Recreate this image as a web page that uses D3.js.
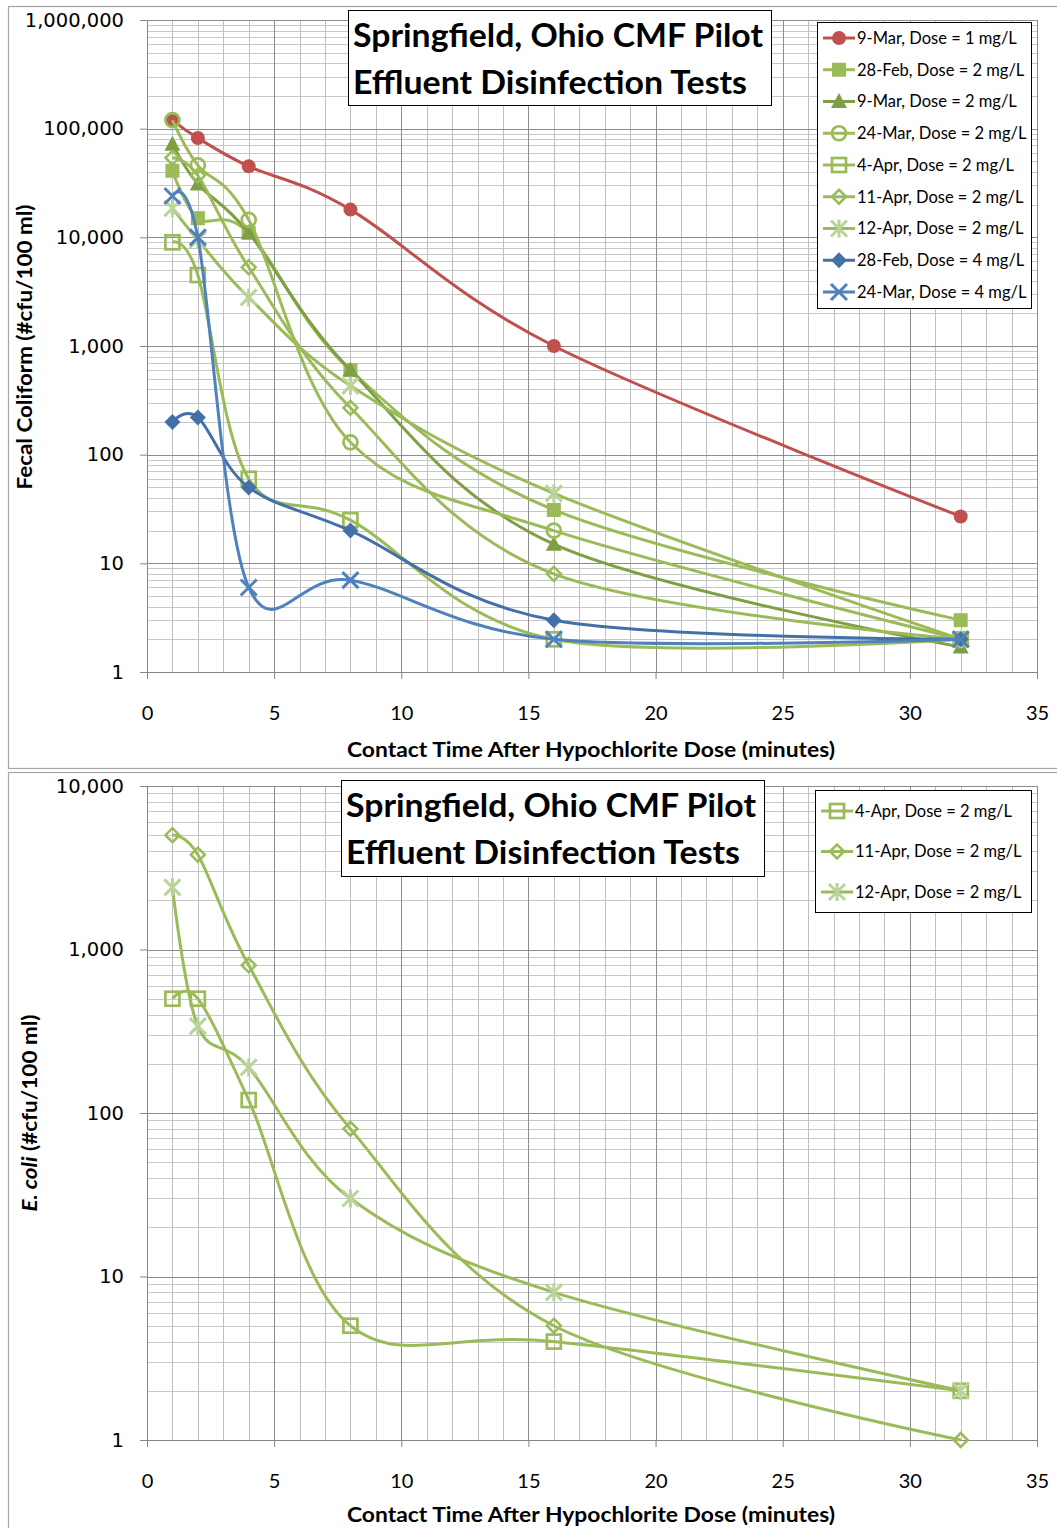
<!DOCTYPE html>
<html>
<head>
<meta charset="utf-8">
<script src="https://cdn.jsdelivr.net/npm/d3@7"></script>
<style>
  body { margin: 0; background: #fff; }
  svg { display: block; }
</style>
</head>
<body>
<div id="chart"></div>
<script>
// contact times (minutes)
var times = [1, 2, 4, 8, 16, 32];

// Fecal coliform, #cfu/100 ml
var fc_9Mar_1 = [120000, 82000, 45000, 18000, 1000, 27];
var fc_28Feb_2 = [41000, 15000, 11000, 600, 31, 3];
var fc_9Mar_2 = [72000, 31000, 11000, 600, 15, 1.7];
var fc_24Mar_2 = [120000, 46000, 14500, 130, 20, 2];
var fc_4Apr_2 = [9000, 4500, 60, 25, 2, 2];
var fc_11Apr_2 = [54000, 37000, 5300, 270, 8, 2];
var fc_12Apr_2 = [18500, 9500, 2800, 430, 44, 2];
var fc_28Feb_4 = [200, 220, 50, 20, 3, 2];
var fc_24Mar_4 = [24000, 10000, 6, 7, 2, 2];

// E. coli, #cfu/100 ml
var ec_4Apr_2 = [500, 500, 120, 5, 4, 2];
var ec_11Apr_2 = [5000, 3800, 800, 80, 5, 1];
var ec_12Apr_2 = [2400, 340, 190, 30, 8, 2];

var fcTicks = [1, 10, 100, 1000, 10000, 100000, 1000000];
var ecTicks = [1, 10, 100, 1000, 10000];
var xTicks = [0, 5, 10, 15, 20, 25, 30, 35];

var red = "#C0504D", green = "#9BBB59", dkgreen = "#7F9F45",
    ltgreen = "#B9D39A", blue = "#4470A8", blue2 = "#4F81BD";

var topSeries = [
  {name: "9-Mar, Dose = 1 mg/L", values: fc_9Mar_1, color: red, marker: "circle"},
  {name: "28-Feb, Dose = 2 mg/L", values: fc_28Feb_2, color: green, marker: "square"},
  {name: "9-Mar, Dose = 2 mg/L", values: fc_9Mar_2, color: dkgreen, marker: "triangle"},
  {name: "24-Mar, Dose = 2 mg/L", values: fc_24Mar_2, color: green, marker: "ocircle"},
  {name: "4-Apr, Dose = 2 mg/L", values: fc_4Apr_2, color: green, marker: "osquare"},
  {name: "11-Apr, Dose = 2 mg/L", values: fc_11Apr_2, color: green, marker: "odiamond"},
  {name: "12-Apr, Dose = 2 mg/L", values: fc_12Apr_2, color: green, mcolor: ltgreen, marker: "star"},
  {name: "28-Feb, Dose = 4 mg/L", values: fc_28Feb_4, color: blue, marker: "diamond"},
  {name: "24-Mar, Dose = 4 mg/L", values: fc_24Mar_4, color: blue2, marker: "x"}
];

var bottomSeries = [
  {name: "4-Apr, Dose = 2 mg/L", values: ec_4Apr_2, color: green, marker: "osquare"},
  {name: "11-Apr, Dose = 2 mg/L", values: ec_11Apr_2, color: green, marker: "odiamond"},
  {name: "12-Apr, Dose = 2 mg/L", values: ec_12Apr_2, color: green, mcolor: ltgreen, marker: "star"}
];

var W = 1057, H = 1528;
var svg = d3.select("#chart").append("svg").attr("width", W).attr("height", H);
svg.append("rect").attr("width", W).attr("height", H).attr("fill", "#fff");

var x = d3.scaleLinear().domain([0, 35]).range([147, 1037]);

function drawMarker(g, type, color, cx, cy) {
  var s = 7;
  if (type == "circle") {
    g.append("circle").attr("cx", cx).attr("cy", cy).attr("r", 7).attr("fill", color);
  } else if (type == "square") {
    g.append("rect").attr("x", cx - s).attr("y", cy - s).attr("width", 2 * s).attr("height", 2 * s).attr("fill", color);
  } else if (type == "triangle") {
    g.append("path").attr("d", "M" + cx + "," + (cy - 8.5) + "L" + (cx + 8) + "," + (cy + 6.5) + "L" + (cx - 8) + "," + (cy + 6.5) + "Z").attr("fill", color);
  } else if (type == "ocircle") {
    g.append("circle").attr("cx", cx).attr("cy", cy).attr("r", 7).attr("fill", "none").attr("stroke", color).attr("stroke-width", 2.7);
  } else if (type == "osquare") {
    g.append("rect").attr("x", cx - 7).attr("y", cy - 7).attr("width", 14).attr("height", 14).attr("fill", "none").attr("stroke", color).attr("stroke-width", 2.7);
  } else if (type == "odiamond") {
    g.append("path").attr("d", "M" + cx + "," + (cy - 7) + "L" + (cx + 7) + "," + cy + "L" + cx + "," + (cy + 7) + "L" + (cx - 7) + "," + cy + "Z").attr("fill", "none").attr("stroke", color).attr("stroke-width", 2.5);
  } else if (type == "diamond") {
    g.append("path").attr("d", "M" + cx + "," + (cy - 8) + "L" + (cx + 8) + "," + cy + "L" + cx + "," + (cy + 8) + "L" + (cx - 8) + "," + cy + "Z").attr("fill", color);
  } else if (type == "x") {
    g.append("path").attr("d", "M" + (cx - 8) + "," + (cy - 8) + "L" + (cx + 8) + "," + (cy + 8) + "M" + (cx + 8) + "," + (cy - 8) + "L" + (cx - 8) + "," + (cy + 8))
      .attr("stroke", color).attr("stroke-width", 3).attr("fill", "none");
  } else if (type == "star") {
    g.append("path").attr("d", "M" + (cx - 8) + "," + (cy - 8) + "L" + (cx + 8) + "," + (cy + 8) + "M" + (cx + 8) + "," + (cy - 8) + "L" + (cx - 8) + "," + (cy + 8) + "M" + cx + "," + (cy - 9) + "L" + cx + "," + (cy + 9))
      .attr("stroke", color).attr("stroke-width", 3).attr("fill", "none");
  }
}

function drawChart(opt) {
  var y = d3.scaleLog().domain(opt.yDomain).range([opt.bottom, opt.top]);
  var g = svg.append("g");

  // chart border
  g.append("rect").attr("x", 8.5).attr("y", opt.frameTop + 0.5).attr("width", 1070).attr("height", opt.frameH)
    .attr("fill", "#fff").attr("stroke", "#A6A6A6").attr("stroke-width", 1.2);

  // minor grid
  var minorY = [];
  for (var e = Math.log10(opt.yDomain[0]); e < Math.log10(opt.yDomain[1]); e++) {
    for (var k = 2; k <= 9; k++) minorY.push(k * Math.pow(10, e));
  }
  g.selectAll(".hminor").data(minorY).enter().append("line")
    .attr("x1", x(0)).attr("x2", x(35)).attr("y1", d => Math.round(y(d)) + 0.5).attr("y2", d => Math.round(y(d)) + 0.5)
    .attr("stroke", "#C8C8C8").attr("stroke-width", 1);
  g.selectAll(".vminor").data(d3.range(0, 36).filter(d => d % 5 != 0)).enter().append("line")
    .attr("x1", d => Math.round(x(d)) + 0.5).attr("x2", d => Math.round(x(d)) + 0.5).attr("y1", opt.top).attr("y2", opt.bottom)
    .attr("stroke", "#C0C0C0").attr("stroke-width", 1);
  // major grid
  g.selectAll(".hmajor").data(opt.yTicks).enter().append("line")
    .attr("x1", x(0)).attr("x2", x(35)).attr("y1", d => Math.round(y(d)) + 0.5).attr("y2", d => Math.round(y(d)) + 0.5)
    .attr("stroke", "#8C8C8C").attr("stroke-width", 1);
  g.selectAll(".vmajor").data(xTicks).enter().append("line")
    .attr("x1", d => Math.round(x(d)) + 0.5).attr("x2", d => Math.round(x(d)) + 0.5).attr("y1", opt.top).attr("y2", opt.bottom)
    .attr("stroke", "#8C8C8C").attr("stroke-width", 1);

  // axes
  var ya = g.append("g").attr("transform", "translate(" + x(0) + ",0)")
    .call(d3.axisLeft(y).tickValues(opt.yTicks).tickSize(7).tickPadding(16).tickFormat(d3.format(",")));
  ya.selectAll("text").attr("font-family", "DejaVu Sans").attr("font-size", 19.5).attr("fill", "#000");
  var xa = g.append("g").attr("transform", "translate(0," + opt.bottom + ")")
    .call(d3.axisBottom(x).tickValues(xTicks).tickSize(7).tickPadding(27).tickFormat(d3.format("d")));
  xa.selectAll("text").attr("font-family", "Lato").attr("font-size", 20).attr("fill", "#000");
  g.selectAll(".domain, .tick line").attr("stroke", "#868686");

  // series lines
  var line = d3.line().x((d, i) => x(times[i])).y(d => y(d)).curve(d3.curveCardinal.tension(0));
  opt.series.forEach(function(s) {
    g.append("path").attr("d", line(s.values)).attr("fill", "none")
      .attr("stroke", s.color).attr("stroke-width", 3).attr("stroke-linejoin", "round");
    var mg = g.append("g");
    s.values.forEach(function(v, i) { drawMarker(mg, s.marker, s.mcolor || s.color, x(times[i]), y(v)); });
  });

  // title box
  var t = opt.title;
  g.append("rect").attr("x", t.x + 0.5).attr("y", t.y + 0.5).attr("width", t.w).attr("height", t.h)
    .attr("fill", "#fff").attr("stroke", "#000").attr("stroke-width", 1);
  g.append("text").attr("x", t.x + 5).attr("y", t.y + 37).attr("font-family", "Lato").attr("font-weight", "bold")
    .attr("font-size", 33).attr("textLength", 410).attr("lengthAdjust", "spacingAndGlyphs").text("Springfield, Ohio CMF Pilot");
  g.append("text").attr("x", t.x + 5).attr("y", t.y + 84).attr("font-family", "Lato").attr("font-weight", "bold")
    .attr("font-size", 33).attr("textLength", 394).attr("lengthAdjust", "spacingAndGlyphs").text("Effluent Disinfection Tests");

  // legend
  var L = opt.legend;
  g.append("rect").attr("x", L.x + 0.5).attr("y", L.y + 0.5).attr("width", L.w).attr("height", L.h)
    .attr("fill", "#fff").attr("stroke", "#000").attr("stroke-width", 1);
  opt.series.forEach(function(s, i) {
    var cy = L.y0 + i * L.step;
    g.append("line").attr("x1", L.x + 6).attr("x2", L.x + 38).attr("y1", cy).attr("y2", cy)
      .attr("stroke", s.color).attr("stroke-width", 3);
    drawMarker(g, s.marker, s.mcolor || s.color, L.x + 22, cy);
    g.append("text").attr("x", L.x + 40).attr("y", cy).attr("dy", "0.35em").attr("font-family", "Lato")
      .attr("font-size", 16.5).text(s.name);
  });

  // axis titles
  g.append("text").attr("x", 591).attr("y", opt.bottom + opt.xlabDy).attr("text-anchor", "middle")
    .attr("font-family", "Lato").attr("font-weight", "bold").attr("font-size", 20)
    .attr("textLength", 488).attr("lengthAdjust", "spacingAndGlyphs")
    .text("Contact Time After Hypochlorite Dose (minutes)");
  var yt = g.append("text").attr("transform", "translate(" + opt.ylab.x + "," + opt.ylab.y + ") rotate(-90)")
    .attr("text-anchor", "middle").attr("dy", "0.35em").attr("font-family", "Lato").attr("font-weight", "bold")
    .attr("font-size", 20).attr("textLength", opt.ylab.len).attr("lengthAdjust", "spacingAndGlyphs");
  opt.ylab.parts.forEach(function(p) {
    yt.append("tspan").attr("font-style", p[1] ? "italic" : "normal").text(p[0]);
  });
}

drawChart({
  yDomain: [1, 1000000], yTicks: fcTicks, top: 20, bottom: 672,
  frameTop: 6, frameH: 762, xlabDy: 85,
  series: topSeries,
  title: {x: 348, y: 10, w: 423, h: 95},
  legend: {x: 817, y: 22, w: 214, h: 286, y0: 38, step: 31.75},
  ylab: {x: 25, y: 347, len: 285, parts: [["Fecal Coliform (#cfu/100 ml)", false]]}
});

drawChart({
  yDomain: [1, 10000], yTicks: ecTicks, top: 786, bottom: 1440,
  frameTop: 772, frameH: 780, xlabDy: 82,
  series: bottomSeries,
  title: {x: 341, y: 780, w: 423, h: 96},
  legend: {x: 815, y: 790, w: 216, h: 122, y0: 811, step: 40.5},
  ylab: {x: 30, y: 1113, len: 197, parts: [["E. coli", true], [" (#cfu/100 ml)", false]]}
});
</script>
</body>
</html>
